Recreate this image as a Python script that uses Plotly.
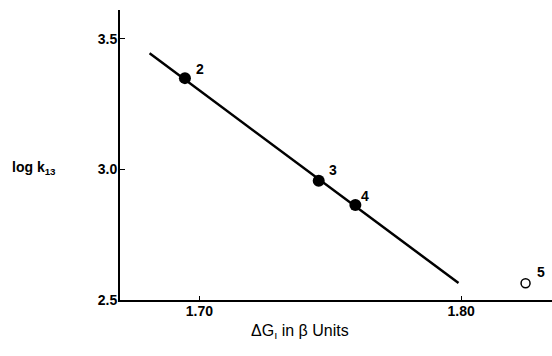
import plotly.graph_objects as go

# Data
pt_labels = ["2", "3", "4"]
x_filled = [1.6945, 1.7456, 1.7596]
y_filled = [3.350, 2.957, 2.864]

open_label = ["5"]
x_open = [1.8246]
y_open = [2.564]

fit_x = [1.681, 1.799]
fit_y = [3.445, 2.565]

x_ticks = [1.70, 1.80]
x_ticktext = ["1.70", "1.80"]
y_ticks = [2.5, 3.0, 3.5]
y_ticktext = ["2.5", "3.0", "3.5"]

FONT = "Liberation Sans, Arial"

fig = go.Figure()
fig.add_trace(go.Scatter(x=fit_x, y=fit_y, mode="lines",
                         line=dict(color="black", width=2.5), showlegend=False))
fig.add_trace(go.Scatter(x=x_filled, y=y_filled, mode="markers",
                         marker=dict(color="black", size=12), showlegend=False))
fig.add_trace(go.Scatter(x=x_open, y=y_open, mode="markers",
                         marker=dict(color="white", size=9, line=dict(color="black", width=1.5)),
                         showlegend=False))

offsets = [(15, 9), (14, 11), (10, 9)]
for lab, xv, yv, (dx, dy) in zip(pt_labels, x_filled, y_filled, offsets):
    fig.add_annotation(x=xv, y=yv, text="<b>" + lab + "</b>", showarrow=False, xshift=dx, yshift=dy,
                       font=dict(family=FONT, size=14, color="black"))
for lab, xv, yv in zip(open_label, x_open, y_open):
    fig.add_annotation(x=xv, y=yv, text="<b>" + lab + "</b>", showarrow=False, xshift=15, yshift=11,
                       font=dict(family=FONT, size=14, color="black"))

fig.add_annotation(xref="paper", yref="paper", x=-0.2546, y=0.455, xanchor="left",
                   text="<b>log k</b><sub><b>13</b></sub>",
                   showarrow=False, font=dict(family=FONT, size=14, color="black"))
fig.add_annotation(xref="paper", yref="paper", x=0.4167, y=-0.148,
                   text="ΔG<sub>ı</sub> in β Units",
                   showarrow=False, font=dict(family=FONT, size=16, color="black"))

fig.update_xaxes(range=[1.6697, 1.8347], tickvals=x_ticks, ticktext=x_ticktext,
                 ticks="inside", ticklen=4, tickcolor="black", showline=True,
                 linecolor="black", linewidth=2, showgrid=False, zeroline=False,
                 ticklabelstandoff=-3,
                 tickfont=dict(family=FONT, size=14, color="black", weight="bold"))
fig.update_yaxes(range=[2.5, 3.611], tickvals=y_ticks, ticktext=y_ticktext,
                 ticks="inside", ticklen=5, tickcolor="black", showline=True,
                 linecolor="black", linewidth=2, showgrid=False, zeroline=False,
                 ticklabelstandoff=-2,
                 tickfont=dict(family=FONT, size=14, color="black", weight="bold"))

fig.update_layout(width=552, height=356, margin=dict(l=120, r=0, t=10, b=56),
                  plot_bgcolor="white", paper_bgcolor="white", showlegend=False)

fig.write_html("out.html")
